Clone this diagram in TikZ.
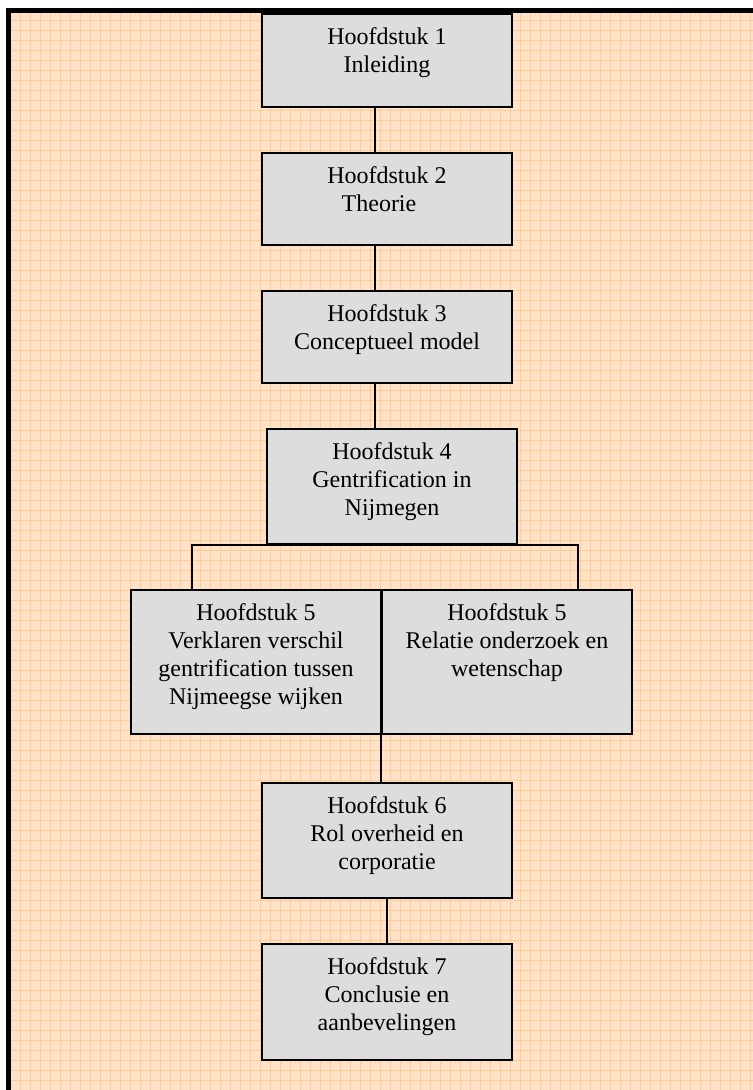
\documentclass[tikz,border=0pt]{standalone}
\usepackage{fontspec}
\setmainfont{Liberation Serif}
\definecolor{peach}{HTML}{FFE3C8}
\definecolor{peachline}{HTML}{FFCB96}
\definecolor{boxgray}{HTML}{DDDDDD}
% tekst bovenaan in een vak van vaste hoogte
\newcommand{\hfdtext}[2]{\parbox[c][#1][t]{187.5pt}{\centering\vspace*{8.5pt}\strut #2\par}}
\begin{document}
\begin{tikzpicture}[x=0.75pt, y=-0.75pt,
        chbox/.style={draw=black, line width=1.5pt, fill=boxgray, inner sep=0pt, anchor=north west, font=\fontsize{18pt}{21pt}\selectfont},
        conn/.style={line width=1.2pt, black}
    ]
        \useasboundingbox (0,0) rectangle (753,1090);
        % achtergrond en kader
        \fill[peach] (11,13) rectangle (753,1090);
        \draw[peachline, line width=0.5pt, step=7.5pt] (11,13) grid (753,1090);
        \fill[black] (6,8) rectangle (753,13);
        \fill[black] (6,8) rectangle (11,1090);

        \node[chbox] (h1)  at (261,13)  {\hfdtext{69.75pt}{Hoofdstuk 1\\Inleiding}};
        \node[chbox] (h2)  at (261,152) {\hfdtext{69pt}{Hoofdstuk 2\\Theorie\hspace*{12pt}}};
        \node[chbox] (h3)  at (261,290) {\hfdtext{69pt}{Hoofdstuk 3\\Conceptueel model}};
        \node[chbox] (h4)  at (266,428) {\hfdtext{86.25pt}{Hoofdstuk 4\\Gentrification in\\Nijmegen}};
        \node[chbox] (h5a) at (130,589) {\hfdtext{108pt}{Hoofdstuk 5\\Verklaren verschil\\gentrification tussen\\Nijmeegse wijken}};
        \node[chbox] (h5b) at (381,589) {\hfdtext{108pt}{Hoofdstuk 5\\Relatie onderzoek en\\wetenschap}};
        \node[chbox] (h6)  at (261,782) {\hfdtext{86.25pt}{Hoofdstuk 6\\Rol overheid en\\corporatie}};
        \node[chbox] (h7)  at (261,943) {\hfdtext{87pt}{Hoofdstuk 7\\Conclusie en\\aanbevelingen}};

        \coordinate (spine) at (375,0);
        \coordinate (ltak) at (192,0);
        \coordinate (rtak) at (578,0);
        \draw[conn] (h1.south -| spine) -- (h2.north -| spine);
        \draw[conn] (h2.south -| spine) -- (h3.north -| spine);
        \draw[conn] (h3.south -| spine) -- (h4.north -| spine);
        \draw[conn] (h5a.north -| ltak) |- (h4.south) -| (h5b.north -| rtak);
        \draw[conn] (h5b.south west) -- (h6.north -| h5b.south west);
        \draw[conn] (h6.south) -- (h7.north);
    \end{tikzpicture}
\end{document}
